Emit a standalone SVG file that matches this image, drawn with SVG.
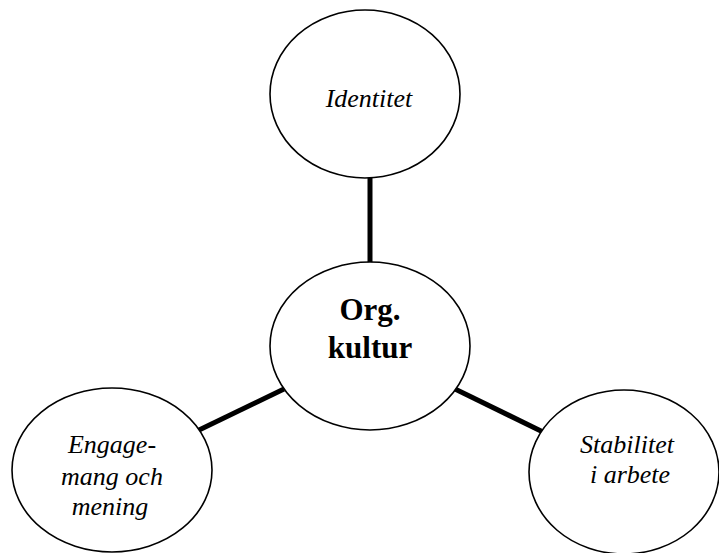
<svg xmlns="http://www.w3.org/2000/svg" width="719" height="553" viewBox="0 0 719 553">
<style>
.node ellipse{fill:#fff;stroke:#000;stroke-width:1.6}
.lbl{font-family:"Liberation Serif","Times New Roman",serif;font-style:italic;font-size:26px;text-anchor:middle;fill:#000}
.main{font-family:"Liberation Serif","Times New Roman",serif;font-weight:bold;font-size:31px;text-anchor:middle;fill:#000}
.conn line{stroke:#000;stroke-width:5}
</style>
<rect width="719" height="553" fill="#fff"/>
<g id="connectors" class="conn">
<line x1="370" y1="176" x2="370" y2="265"/>
<line x1="197" y1="431" x2="284" y2="389"/>
<line x1="455" y1="389" x2="543" y2="432"/>
</g>
<g id="node-identitet" class="node">
<ellipse cx="365" cy="94" rx="95" ry="84"/>
<text class="lbl" x="369" y="107">Identitet</text>
</g>
<g id="node-orgkultur" class="node">
<ellipse cx="370" cy="346" rx="100" ry="84"/>
<text class="main" x="370" y="320">Org.</text>
<text class="main" x="370" y="358">kultur</text>
</g>
<g id="node-engagemang" class="node">
<ellipse cx="112" cy="470" rx="100" ry="82"/>
<text class="lbl" x="112" y="453">Engage-</text>
<text class="lbl" x="112" y="485">mang och</text>
<text class="lbl" x="110" y="515">mening</text>
</g>
<g id="node-stabilitet" class="node">
<ellipse cx="624" cy="472" rx="95" ry="82"/>
<text class="lbl" x="627" y="453">Stabilitet</text>
<text class="lbl" x="630" y="483">i arbete</text>
</g>
</svg>
